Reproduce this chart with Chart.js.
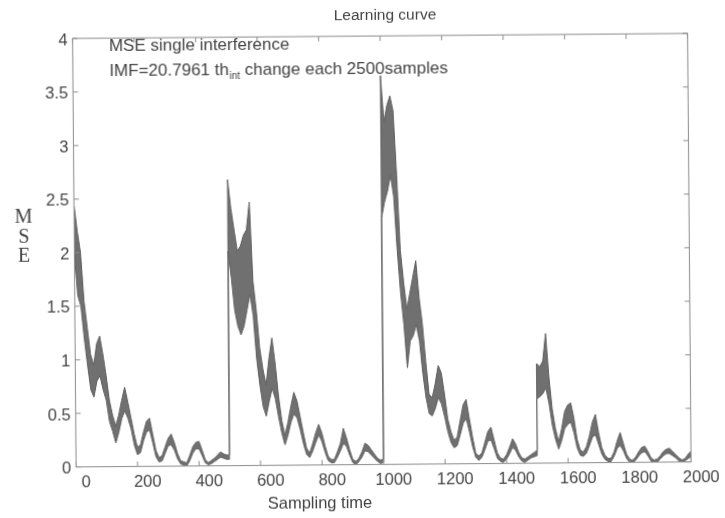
<!DOCTYPE html>
<html><head><meta charset="utf-8">
<script src="https://cdn.jsdelivr.net/npm/chart.js@4.4.1/dist/chart.umd.min.js"></script>
<style>
html,body{margin:0;padding:0;background:#fff;overflow:hidden;}
#c{display:block;transform:rotate(-0.47deg);transform-origin:50% 50%;}
</style>
</head><body>
<canvas id="c" width="725" height="518"></canvas>
<script>
// ---- data ----
const sampleTime = [
  0,10,20,30,40,50,60,70,80,90,100,110,120,130,140,150,160,170,180,190,200,210,220,230,240,250,260,270,280,290,300,310,320,330,340,350,360,370,380,390,400,410,420,430,440,450,460,470,480,490,499,
  500,510,520,530,540,550,560,570,580,590,600,610,620,630,640,650,660,670,680,690,700,710,720,730,740,750,760,770,780,790,800,810,820,830,840,850,860,870,880,890,900,910,920,930,940,950,960,970,980,990,999,
  1000,1010,1020,1030,1040,1050,1060,1070,1080,1090,1100,1110,1120,1130,1140,1150,1160,1170,1180,1190,1200,1210,1220,1230,1240,1250,1260,1270,1280,1290,1300,1310,1320,1330,1340,1350,1360,1370,1380,1390,1400,1410,1420,1430,1440,1450,1460,1470,1480,1490,1499,
  1500,1510,1520,1530,1540,1550,1560,1570,1580,1590,1600,1610,1620,1630,1640,1650,1660,1670,1680,1690,1700,1710,1720,1730,1740,1750,1760,1770,1780,1790,1800,1810,1820,1830,1840,1850,1860,1870,1880,1890,1900,1910,1920,1930,1940,1950,1960,1970,1980,1990,2000
];
const mseUpper = [
  2.45,2.2,2.0,1.55,1.3,1.05,0.95,1.15,1.22,1.05, 0.85,0.62,0.48,0.38,0.48,0.62,0.74,0.6,0.45,0.3, 0.18,0.2,0.32,0.42,0.45,0.3,0.15,0.08,0.1,0.18, 0.26,0.3,0.22,0.12,0.05,0.04,0.03,0.1,0.18,0.22, 0.23,0.15,0.06,0.03,0.05,0.07,0.1,0.13,0.11,0.1, 0.1,
  2.67,2.4,2.2,2.0,2.05,2.15,2.2,2.46,1.72,1.45, 1.1,0.9,0.75,1.0,1.19,0.95,0.65,0.42,0.28,0.4, 0.55,0.68,0.6,0.45,0.3,0.16,0.11,0.2,0.3,0.38, 0.3,0.18,0.08,0.05,0.05,0.12,0.2,0.34,0.25,0.14, 0.05,0.03,0.06,0.12,0.2,0.18,0.14,0.1,0.06,0.04, 0.05,
  3.63,3.2,3.35,3.44,3.3,2.7,2.0,1.7,1.45,1.6, 1.75,1.9,1.55,1.3,0.95,0.65,0.62,0.75,0.92,0.85, 0.65,0.42,0.3,0.22,0.25,0.4,0.55,0.6,0.42,0.25, 0.1,0.07,0.1,0.2,0.3,0.34,0.22,0.1,0.05,0.04, 0.08,0.15,0.23,0.18,0.1,0.05,0.04,0.06,0.08,0.1, 0.12,
  0.93,0.9,0.95,1.21,0.8,0.5,0.32,0.2,0.32,0.48, 0.54,0.56,0.42,0.22,0.12,0.1,0.15,0.25,0.38,0.45, 0.28,0.14,0.07,0.04,0.04,0.1,0.2,0.28,0.18,0.08, 0.03,0.02,0.05,0.1,0.14,0.15,0.1,0.04,0.02,0.03, 0.06,0.1,0.12,0.13,0.1,0.07,0.04,0.02,0.03,0.07, 0.1
];
const mseLower = [
  2.0,1.6,1.5,1.2,0.95,0.72,0.65,0.8,0.85,0.72, 0.62,0.42,0.33,0.22,0.32,0.45,0.52,0.45,0.35,0.2, 0.11,0.13,0.24,0.32,0.34,0.22,0.09,0.04,0.05,0.12, 0.19,0.2,0.15,0.07,0.02,0.01,0.0,0.05,0.12,0.16, 0.16,0.1,0.03,0.01,0.02,0.04,0.06,0.08,0.07,0.06, 0.06,
  2.0,1.75,1.45,1.3,1.22,1.3,1.45,1.6,1.4,1.0, 0.75,0.55,0.46,0.6,0.72,0.62,0.45,0.3,0.19,0.28, 0.4,0.48,0.44,0.33,0.2,0.1,0.07,0.13,0.21,0.28, 0.22,0.12,0.04,0.02,0.02,0.07,0.13,0.2,0.17,0.09, 0.02,0.0,0.03,0.07,0.13,0.12,0.09,0.06,0.03,0.01, 0.02,
  2.3,2.45,2.55,2.7,2.5,2.0,1.6,1.3,0.9,1.15, 1.2,1.3,1.15,0.85,0.62,0.47,0.45,0.52,0.62,0.56, 0.44,0.3,0.2,0.15,0.17,0.27,0.38,0.42,0.3,0.16, 0.06,0.03,0.06,0.13,0.21,0.22,0.14,0.05,0.02,0.01, 0.04,0.09,0.15,0.12,0.06,0.02,0.01,0.03,0.05,0.06, 0.07,
  0.6,0.62,0.65,0.7,0.55,0.35,0.22,0.13,0.21,0.32, 0.36,0.38,0.28,0.14,0.07,0.06,0.09,0.16,0.24,0.26, 0.17,0.08,0.03,0.01,0.01,0.06,0.13,0.16,0.11,0.04, 0.0,0.0,0.02,0.06,0.09,0.1,0.06,0.01,0.0,0.0, 0.03,0.06,0.08,0.08,0.06,0.04,0.01,0.0,0.01,0.03, 0.05
];
const xTickValues = [0,200,400,600,800,1000,1200,1400,1600,1800,2000];
const xTickLabels = ['0','200','400','600','800','1000','1200','1400','1600','1800','2000'];
const yTickValues = [0,0.5,1,1.5,2,2.5,3,3.5,4];
const yTickLabels = ['0','0.5','1','1.5','2','2.5','3','3.5','4'];
const titleText = 'Learning curve';
const xAxisTitle = 'Sampling time';
const yAxisLetters = ['M','S','E'];
const noteLine1 = 'MSE single interference';
const noteLine2 = ['IMF=20.7961 th', 'int', ' change each 2500samples'];

// ---- chart ----
const SANS = '"Liberation Sans", Arial, sans-serif';
const SERIF = '"Liberation Serif", "Times New Roman", serif';
const textCol = '#444444';

const lowerPts = sampleTime.map((x, i) => ({x: x, y: mseLower[i]}));
const upperPts = sampleTime.map((x, i) => ({x: x, y: mseUpper[i]}));

const framePlugin = {
  id: 'frameTicks',
  afterDatasetsDraw(chart) {
    const {ctx, chartArea: a, scales} = chart;
    ctx.save();
    ctx.strokeStyle = '#8c8c8c';
    ctx.lineWidth = 1;
    ctx.strokeRect(a.left, a.top, a.right - a.left, a.bottom - a.top);
    ctx.beginPath();
    const L = 5;
    xTickValues.forEach(v => {
      const px = scales.x.getPixelForValue(v);
      ctx.moveTo(px, a.bottom); ctx.lineTo(px, a.bottom - L);
      ctx.moveTo(px, a.top); ctx.lineTo(px, a.top + L);
    });
    yTickValues.forEach(v => {
      const py = scales.y.getPixelForValue(v);
      ctx.moveTo(a.left, py); ctx.lineTo(a.left + L, py);
      ctx.moveTo(a.right, py); ctx.lineTo(a.right - L, py);
    });
    ctx.stroke();
    ctx.restore();
  }
};

const textPlugin = {
  id: 'texts',
  afterDraw(chart) {
    const ctx = chart.ctx;
    ctx.save();
    ctx.fillStyle = textCol;
    ctx.textBaseline = 'middle';
    ctx.textAlign = 'center';
    ctx.font = '15.5px ' + SANS;
    ctx.fillText(titleText, 387, 16.2);
    ctx.font = '16.5px ' + SANS;
    ctx.fillText(xAxisTitle, 318, 503.5);
    ctx.font = '20px ' + SERIF;
    const ys = [215.2, 235.2, 253.7];
    yAxisLetters.forEach((c, i) => ctx.fillText(c, 24, ys[i]));
    ctx.textAlign = 'left';
    ctx.textBaseline = 'alphabetic';
    ctx.font = '17px ' + SANS;
    ctx.fillText(noteLine1, 110.7, 48.6);
    let x = 110.9;
    ctx.fillText(noteLine2[0], x, 73.7);
    x += ctx.measureText(noteLine2[0]).width;
    ctx.font = '10px ' + SANS;
    ctx.fillText(noteLine2[1], x + 0.5, 77.5);
    x += ctx.measureText(noteLine2[1]).width + 0.5;
    ctx.font = '17px ' + SANS;
    ctx.fillText(noteLine2[2], x, 73.7);
    ctx.restore();
  }
};

new Chart(document.getElementById('c').getContext('2d'), {
  type: 'line',
  data: {
    datasets: [
      {data: lowerPts, borderColor: '#606060', borderWidth: 1, pointRadius: 0, fill: false, tension: 0},
      {data: upperPts, borderColor: '#606060', borderWidth: 1, pointRadius: 0, fill: '-1',
       backgroundColor: 'rgba(92,92,92,0.88)', tension: 0}
    ]
  },
  options: {
    responsive: false,
    animation: false,
    devicePixelRatio: 1,
    layout: {padding: {left: 34.4, right: 35.6, top: 36.1, bottom: 23.4}},
    plugins: {legend: {display: false}, tooltip: {enabled: false}, title: {display: false}},
    scales: {
      x: {
        type: 'linear', min: 0, max: 2000,
        afterFit: s => { s.height = 30; },
        afterBuildTicks: s => { s.ticks = xTickValues.map(v => ({value: v})); },
        grid: {display: false, drawTicks: false},
        border: {display: false},
        ticks: {
          padding: 6, labelOffset: 10, maxRotation: 0, autoSkip: false,
          color: textCol, font: {family: SANS, size: 16.5},
          callback: v => { const i = xTickValues.indexOf(v); return i >= 0 ? xTickLabels[i] : ''; }
        }
      },
      y: {
        type: 'linear', min: 0, max: 4,
        afterFit: s => { s.width = 40; },
        afterBuildTicks: s => { s.ticks = yTickValues.map(v => ({value: v})); },
        grid: {display: false, drawTicks: false},
        border: {display: false},
        ticks: {
          padding: 5, labelOffset: 2, autoSkip: false,
          color: textCol, font: {family: SANS, size: 16.5},
          callback: v => { const i = yTickValues.indexOf(v); return i >= 0 ? yTickLabels[i] : ''; }
        }
      }
    }
  },
  plugins: [framePlugin, textPlugin]
});
</script>
</body></html>
